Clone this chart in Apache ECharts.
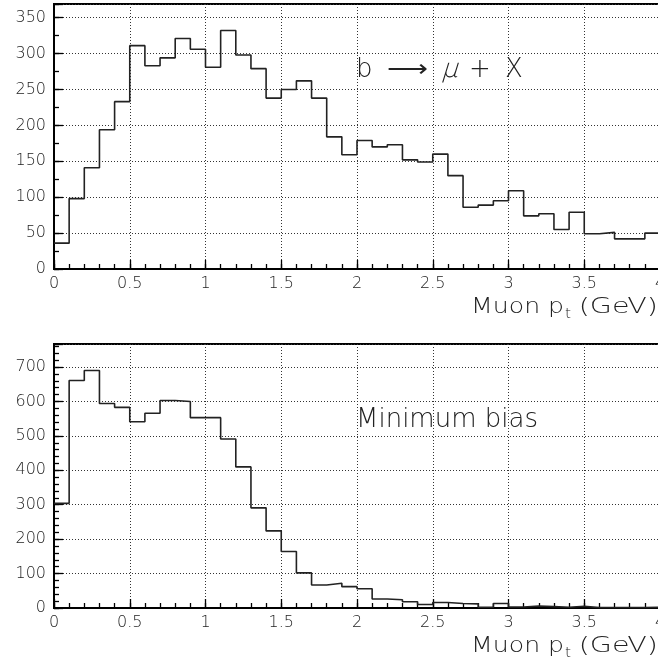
<!DOCTYPE html>
<html>
<head>
<meta charset="utf-8">
<script src="https://cdn.jsdelivr.net/npm/echarts@6/dist/echarts.min.js"></script>
<style>
html,body{margin:0;padding:0;background:#fff;}
#c{width:658px;height:666px;}
</style>
</head>
<body>
<div id="c"></div>
<script>
// Bin edges (GeV), 40 bins of width 0.1
const binEdges = [0.0,0.1,0.2,0.3,0.4,0.5,0.6,0.7,0.8,0.9,1.0,1.1,1.2,1.3,1.4,1.5,1.6,1.7,1.8,1.9,2.0,
  2.1,2.2,2.3,2.4,2.5,2.6,2.7,2.8,2.9,3.0,3.1,3.2,3.3,3.4,3.5,3.6,3.7,3.8,3.9,4.0];
// b -> mu + X  (top panel)
const bMuonCounts = [36,98,141,194,233,311,283,294,321,306,281,332,298,279,238,250,262,238,184,159,
  179,170,173,152,149,160,130,86,89,95,109,74,77,55,79,49,51,42,42,50];
// Minimum bias (bottom panel)
const minBiasCounts = [304,661,690,594,583,541,566,603,600,553,553,491,410,291,224,164,102,67,72,62,
  56,26,24,18,10,16,13,12,2,13,3,6,4,2,5,1,1,1,1,2];
const xTickLabels = ['0','0.5','1','1.5','2','2.5','3','3.5','4'];
const topYMax = 369, botYMax = 767;
const xTitle = ['Muon p', 't', '(GeV)'];
const topNote = ['b', '\u27F6', '\u03BC', '+', 'X'];
const botNote = 'Minimum bias';

function stepData(counts) {
  const d = counts.map((v, i) => [binEdges[i], v]);
  d.push([binEdges[binEdges.length - 1], counts[counts.length - 1]]);
  return d;
}

const FONT = 'DejaVu Sans';
const TXT = '#222';
const dotted = { color: '#333', width: 1, type: [1, 2] };

function mkX(gridIndex) {
  return [
    { type: 'value', gridIndex, min: 0, max: 4, interval: 0.5, position: 'bottom',
      axisLine: { show: true, onZero: false, lineStyle: { color: '#000', width: 2 } },
      axisTick: { show: true, inside: true, length: 9, lineStyle: { color: '#000', width: 1.3 } },
      axisLabel: { show: true, margin: 7, color: TXT, fontSize: 16, fontFamily: FONT, fontWeight: 200,
        formatter: v => { const i = Math.round(v * 2); return (Math.abs(v * 2 - i) < 1e-6) ? xTickLabels[i] : ''; },
        showMinLabel: true, showMaxLabel: true, hideOverlap: false },
      splitLine: { show: true, lineStyle: dotted } },
    { type: 'value', gridIndex, min: 0, max: 4, interval: 0.1, position: 'bottom',
      axisLine: { show: false, onZero: false }, axisLabel: { show: false }, splitLine: { show: false },
      axisTick: { show: true, inside: true, length: 5, lineStyle: { color: '#000', width: 1.3 } } }
  ];
}
function mkY(gridIndex, max, major, minor) {
  return [
    { type: 'value', gridIndex, min: 0, max, interval: major, position: 'left',
      axisLine: { show: true, lineStyle: { color: '#000', width: 2 } },
      axisTick: { show: true, inside: true, length: 9, lineStyle: { color: '#000', width: 1.3 } },
      axisLabel: { show: true, margin: 8, color: TXT, fontSize: 16, fontFamily: FONT, fontWeight: 200,
        formatter: v => (v % major === 0 ? String(v) : ''), hideOverlap: false },
      splitLine: { show: true, lineStyle: dotted } },
    { type: 'value', gridIndex, min: 0, max, interval: minor, position: 'left',
      axisLine: { show: false }, axisLabel: { show: false }, splitLine: { show: false },
      axisTick: { show: true, inside: true, length: 5, lineStyle: { color: '#000', width: 1.3 } } }
  ];
}

function txt(x, y, text, size, extra) {
  const ex = extra || {};
  const el = { type: 'text', x, y, silent: true,
    style: Object.assign({ text, fill: TXT, font: '200 ' + size + 'px "' + FONT + '"',
      textAlign: 'left', textVerticalAlign: 'middle' }, ex.style || {}) };
  for (const k in ex) if (k !== 'style') el[k] = ex[k];
  return el;
}

function titleGroup(dy) {
  return [
    txt(471, 308 + dy, xTitle[0], 21, { scaleX: 1.2 }),
    txt(565, 314 + dy, xTitle[1], 14, { scaleX: 1.1 }),
    txt(658, 308 + dy, xTitle[2], 21, { scaleX: 1.36, style: { textAlign: 'right' } })
  ];
}

const chart = echarts.init(document.getElementById('c'), null, { renderer: 'canvas' });
chart.setOption({
  animation: false,
  backgroundColor: '#fff',
  textStyle: { fontFamily: FONT },
  grid: [
    { left: 54, top: 4, width: 606, height: 265, show: true, borderColor: '#000', borderWidth: 2,
      backgroundColor: 'transparent', containLabel: false, outerBoundsMode: 'none' },
    { left: 54, top: 344, width: 606, height: 264, show: true, borderColor: '#000', borderWidth: 2,
      backgroundColor: 'transparent', containLabel: false, outerBoundsMode: 'none' }
  ],
  xAxis: [...mkX(0), ...mkX(1)],
  yAxis: [...mkY(0, topYMax, 50, 25), ...mkY(1, botYMax, 100, 20)],
  series: [
    { type: 'line', xAxisIndex: 0, yAxisIndex: 0, step: 'end', symbol: 'none', data: stepData(bMuonCounts),
      lineStyle: { color: '#222', width: 1.6 }, silent: true },
    { type: 'line', xAxisIndex: 2, yAxisIndex: 2, step: 'end', symbol: 'none', data: stepData(minBiasCounts),
      lineStyle: { color: '#222', width: 1.6 }, silent: true }
  ],
  graphic: [
    ...titleGroup(0),
    ...titleGroup(339),
    txt(356, 70, topNote[0], 26),
    txt(387, 70, topNote[1], 26, { scaleX: 1.1 }),
    txt(443, 70, topNote[2], 26, { skewX: -0.3 }),
    txt(469, 70, topNote[3], 26),
    txt(505, 70, topNote[4], 26),
    txt(356, 420, botNote, 26)
  ]
});
</script>
</body>
</html>
